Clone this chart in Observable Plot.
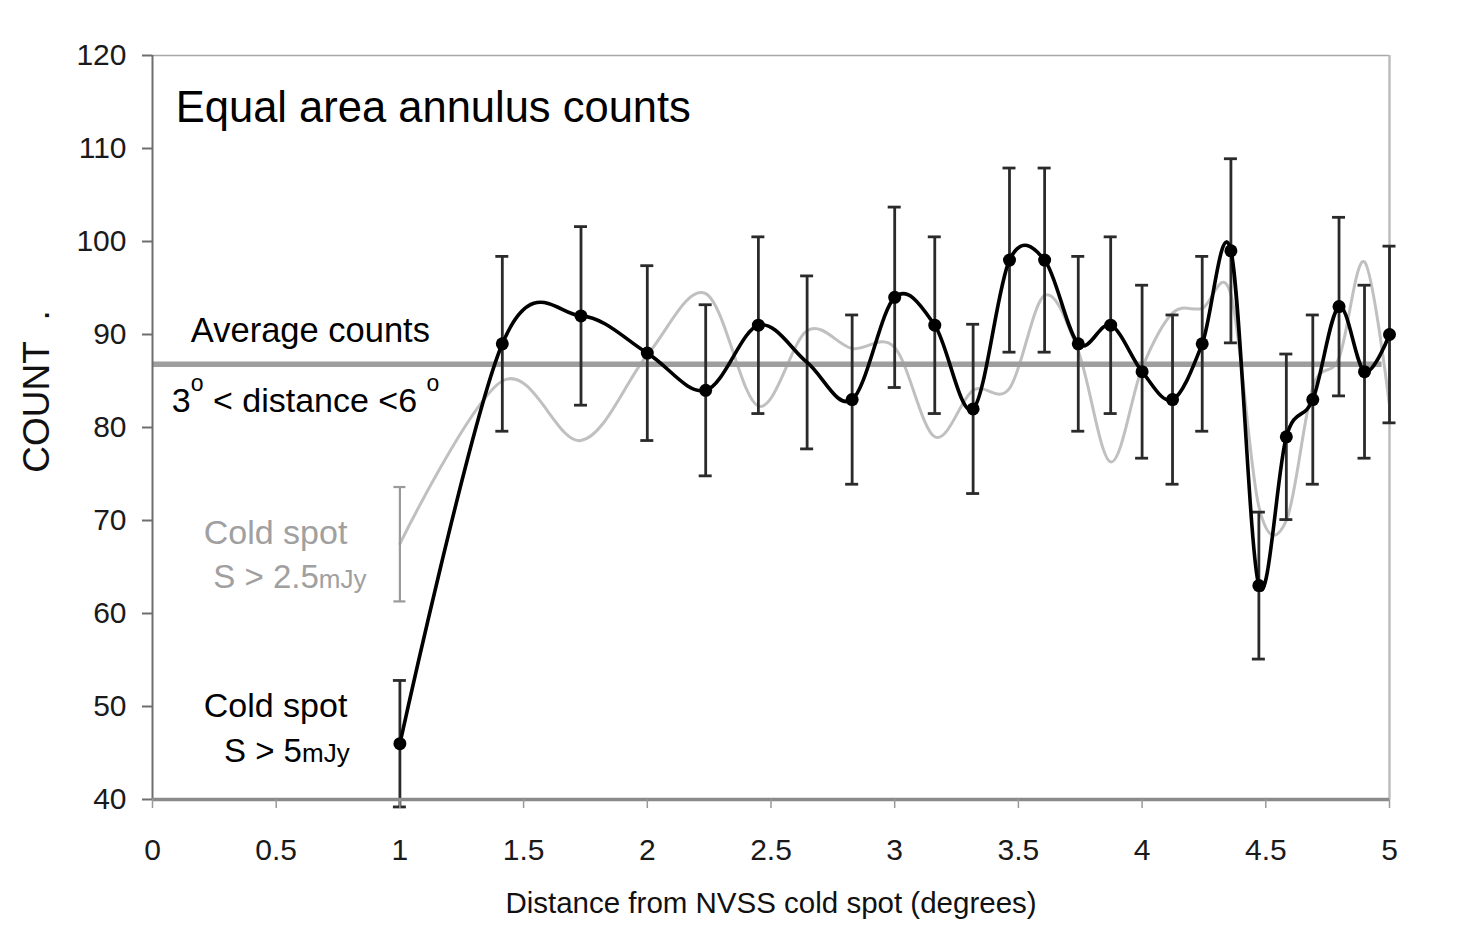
<!DOCTYPE html>
<html>
<head>
<meta charset="utf-8">
<script src="https://cdn.jsdelivr.net/npm/d3@7"></script>
<script src="https://cdn.jsdelivr.net/npm/@observablehq/plot@0.6"></script>
<style>
  html, body { margin: 0; padding: 0; background: #fff; }
  #chart svg { display: block; }
</style>
</head>
<body>
<div id="chart"></div>
<script>
// ---- data ----
const distance = [1.000, 1.414, 1.732, 2.000, 2.236, 2.449, 2.646, 2.828, 3.000, 3.162, 3.317, 3.464, 3.606, 3.742, 3.873, 4.000, 4.123, 4.243, 4.359, 4.472, 4.583, 4.690, 4.796, 4.899, 5.000];
const count5mJy = [46, 89, 92, 88, 84, 91, 87, 83, 94, 91, 82, 98, 98, 89, 91, 86, 83, 89, 99, 63, 79, 83, 93, 86, 90];
const err5mJy = [6.8, 9.4, 9.6, 9.4, 9.2, 9.5, 9.3, 9.1, 9.7, 9.5, 9.1, 9.9, 9.9, 9.4, 9.5, 9.3, 9.1, 9.4, 9.9, 7.9, 8.9, 9.1, 9.6, 9.3, 9.5];
const count25mJy = [67.5, 85.0, 78.6, 87.8, 94.4, 82.3, 90.4, 88.5, 88.6, 79.0, 84.0, 84.2, 94.2, 88.2, 76.3, 86.4, 92.3, 92.8, 94.3, 71.5, 70.0, 84.3, 87.5, 97.8, 82.4];
const coldSpot25 = [{x: 1.0, lo: 61.3, hi: 73.6}];
const hiddenMarkers = [2.646];
const averageCount = 86.8;
const averageSpan = [0, 4.97];
const xTicks = [0, 0.5, 1, 1.5, 2, 2.5, 3, 3.5, 4, 4.5, 5];
const yTicks = [40, 50, 60, 70, 80, 90, 100, 110, 120];

const titleText = "Equal area annulus counts";
const xLabel = "Distance from NVSS cold spot (degrees)";
const yLabel = "COUNT\u00a0\u00a0.";

// ---- derived tables ----
const black = distance.map((d, i) => ({x: d, y: count5mJy[i], lo: count5mJy[i] - err5mJy[i], hi: count5mJy[i] + err5mJy[i]}));
const gray = distance.map((d, i) => ({x: d, y: count25mJy[i]}));

const font = "'Liberation Sans', Arial, Helvetica, sans-serif";

const plot = Plot.plot({
  width: 1458,
  height: 935,
  marginLeft: 152,
  marginRight: 69,
  marginTop: 55,
  marginBottom: 136,
  style: {fontFamily: font, background: "#fff", overflow: "visible"},
  x: {domain: [0, 5]},
  y: {domain: [40, 120]},
  marks: [
    // frame top & right
    Plot.ruleY([120], {stroke: "#a8a8a8", strokeWidth: 1.5}),
    Plot.ruleX([5], {stroke: "#bdbdbd", strokeWidth: 2.5}),
    // grey series (S > 2.5 mJy)
    Plot.line(gray, {x: "x", y: "y", curve: "cardinal", tension: 0, stroke: "#c0c0c0", strokeWidth: 3}),
    Plot.ruleX(coldSpot25, {x: "x", y1: "lo", y2: "hi", stroke: "#9a9a9a", strokeWidth: 2.2}),
    Plot.ruleY(coldSpot25, {x1: "x", x2: "x", y: "hi", insetLeft: -6, insetRight: -6, stroke: "#9a9a9a", strokeWidth: 2.2}),
    Plot.ruleY(coldSpot25, {x1: "x", x2: "x", y: "lo", insetLeft: -6, insetRight: -6, stroke: "#9a9a9a", strokeWidth: 2.2}),
    // average line
    Plot.ruleY([averageCount], {x1: averageSpan[0], x2: averageSpan[1], stroke: "#9e9e9e", strokeWidth: 5.5}),
    // black series error bars
    Plot.ruleX(black, {x: "x", y1: "lo", y2: "hi", stroke: "#2a2a2a", strokeWidth: 2.8}),
    Plot.ruleY(black, {x1: "x", x2: "x", y: "hi", insetLeft: -6.5, insetRight: -6.5, stroke: "#2a2a2a", strokeWidth: 2.8}),
    Plot.ruleY(black, {x1: "x", x2: "x", y: "lo", insetLeft: -6.5, insetRight: -6.5, stroke: "#2a2a2a", strokeWidth: 2.8}),
    // black series
    Plot.line(black, {x: "x", y: "y", curve: "cardinal", tension: 0, stroke: "#000", strokeWidth: 3.6}),
    Plot.dot(black, {x: "x", y: "y", r: 6.5, fill: "#000", filter: d => !hiddenMarkers.includes(d.x)}),
    // axes lines
    Plot.ruleX([0], {stroke: "#6e6e6e", strokeWidth: 2}),
    Plot.ruleY([40], {stroke: "#8a8a8a", strokeWidth: 3.5}),
    Plot.axisY({ticks: yTicks, tickSize: 10, tickPadding: 16, fontSize: 30, stroke: "#6e6e6e", strokeWidth: 2, fill: "#1a1a1a", label: null}),
    Plot.axisX({ticks: xTicks, tickFormat: d => String(d), tickSize: 9, tickPadding: 30, fontSize: 30, stroke: "#9a9a9a", strokeWidth: 1.5, fill: "#1a1a1a", label: null}),
    // axis titles
    Plot.text([xLabel], {frameAnchor: "bottom", textAnchor: "middle", lineAnchor: "middle", dy: 104, fontSize: 29.5, fill: "#111"}),
    Plot.text([yLabel], {frameAnchor: "left", textAnchor: "middle", lineAnchor: "middle", dx: -115, dy: -36, rotate: -90, fontSize: 37, fill: "#111"}),
    // annotations
    Plot.text([titleText], {x: 0.094, y: 114.4, textAnchor: "start", fontSize: 43.5, fill: "#000"}),
    Plot.text(["Average counts"], {x: 0.155, y: 90.4, textAnchor: "start", fontSize: 34.5, fill: "#000"}),
    Plot.text(["3 < distance <6"], {x: 0.078, y: 82.8, textAnchor: "start", fontSize: 34, fill: "#000", className: "deg-note"}),
    Plot.text(["Cold spot"], {x: 0.207, y: 68.6, textAnchor: "start", fontSize: 34, fill: "#a0a0a0"}),
    Plot.text(["S > 2.5mJy"], {x: 0.246, y: 63.9, textAnchor: "start", fontSize: 33, fill: "#a0a0a0", className: "unit-note"}),
    Plot.text(["Cold spot"], {x: 0.207, y: 50.0, textAnchor: "start", fontSize: 34, fill: "#000"}),
    Plot.text(["S > 5mJy"], {x: 0.289, y: 45.2, textAnchor: "start", fontSize: 33, fill: "#000", className: "unit-note"})
  ]
});

document.getElementById("chart").appendChild(plot);

// rich text: superscript degree "o" and small "mJy"
const svg = d3.select(plot);
svg.selectAll("g.deg-note text").each(function () {
  const t = d3.select(this);
  t.text(null);
  t.append("tspan").text("3");
  t.append("tspan").attr("font-size", 23).attr("dy", -21).text("o");
  t.append("tspan").attr("dy", 21).text("\u00a0< distance <6\u00a0");
  t.append("tspan").attr("font-size", 23).attr("dy", -21).text("o");
});
svg.selectAll("g.unit-note text").each(function () {
  const t = d3.select(this);
  const s = t.text();
  const k = s.indexOf("mJy");
  t.text(null);
  t.append("tspan").text(s.slice(0, k));
  t.append("tspan").attr("font-size", 26).text("mJy");
});
</script>
</body>
</html>
